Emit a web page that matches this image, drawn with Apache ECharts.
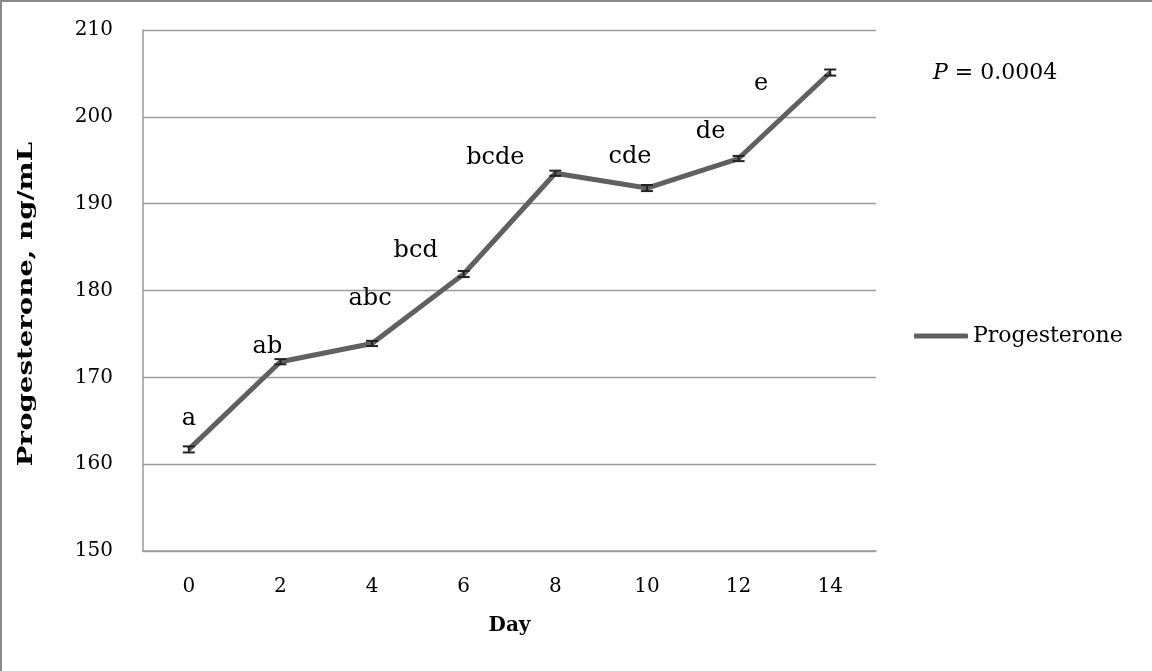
<!DOCTYPE html>
<html>
<head>
<meta charset="utf-8">
<script src="https://cdn.jsdelivr.net/npm/echarts@6/dist/echarts.min.js"></script>
<style>
html,body{margin:0;padding:0;background:#fff;}
#chart{width:1152px;height:671px;}
</style>
</head>
<body>
<div id="chart"></div>
<script>
// ---- data ----
const days = ['0', '2', '4', '6', '8', '10', '12', '14'];
const progesterone = [161.7, 171.8, 173.9, 181.9, 193.5, 191.8, 195.2, 205.1];
const sem = [0.35, 0.3, 0.3, 0.35, 0.3, 0.35, 0.3, 0.35];
const letters = ['a', 'ab', 'abc', 'bcd', 'bcde', 'cde', 'de', 'e'];
const yTicks = { min: 150, max: 210, step: 10 };
const pText = '0.0004';
const yTitle = 'Progesterone, ng/mL';
const xTitle = 'Day';
const seriesName = 'Progesterone';

// ---- layout (not data) ----
const labelOffsets = [[0, -31], [-13, -15], [-2, -45], [-48, -23], [-60, -16], [-17, -31], [-28, -27], [-69, 11]];

const FONT = 'DejaVu Serif';
const chart = echarts.init(document.getElementById('chart'));

const lineData = progesterone.map((v, i) => ({
  value: v,
  label: { show: true, formatter: letters[i], offset: labelOffsets[i] }
}));

const errData = progesterone.map((v, i) => [i, v - sem[i], v + sem[i]]);

chart.setOption({
  animation: false,
  backgroundColor: '#fff',
  grid: { left: 143, right: 276, top: 30, bottom: 120, containLabel: false },
  title: {
    left: 933, top: 62, padding: 0,
    text: '{i|P} = ' + pText,
    textStyle: {
      fontFamily: FONT, fontSize: 22, fontWeight: 'normal', color: '#000',
      rich: { i: { fontFamily: FONT, fontStyle: 'italic', fontSize: 22, color: '#000' } }
    }
  },
  legend: {
    left: 914, top: 325, orient: 'vertical', padding: 0,
    itemWidth: 54, itemHeight: 5, itemGap: 10,
    icon: 'roundRect',
    data: [{ name: seriesName, itemStyle: { color: '#606060' } }],
    textStyle: { fontFamily: FONT, fontSize: 22, color: '#000' }
  },
  xAxis: {
    type: 'category', data: days, boundaryGap: true,
    name: xTitle, nameLocation: 'middle', nameGap: 65,
    nameTextStyle: { fontFamily: FONT, fontSize: 20, fontWeight: 'bold', color: '#000' },
    axisLine: { lineStyle: { color: '#9a9a9a', width: 1.5 } },
    axisTick: { show: false },
    axisLabel: { fontFamily: FONT, fontSize: 20, color: '#000', margin: 26 }
  },
  yAxis: {
    type: 'value', min: yTicks.min, max: yTicks.max, interval: yTicks.step,
    axisLine: { show: true, lineStyle: { color: '#9a9a9a', width: 1.5 } },
    axisTick: { show: false },
    splitLine: { lineStyle: { color: '#9a9a9a', width: 1.3 } },
    axisLabel: { fontFamily: FONT, fontSize: 20, color: '#000', margin: 30 }
  },
  series: [
    {
      name: seriesName, type: 'line', data: lineData,
      symbol: 'circle', symbolSize: 0.1, showSymbol: true,
      lineStyle: { color: '#606060', width: 5 },
      itemStyle: { color: '#606060' },
      label: { fontFamily: FONT, fontSize: 24, color: '#000', position: 'inside' },
      z: 2
    },
    {
      name: 'err', type: 'custom', data: errData, z: 3,
      renderItem: function (params, api) {
        const i = api.value(0);
        const lo = api.coord([i, api.value(1)]);
        const hi = api.coord([i, api.value(2)]);
        const hw = 6;
        const st = { stroke: '#222', lineWidth: 2 };
        return {
          type: 'group',
          children: [
            { type: 'line', shape: { x1: lo[0], y1: lo[1], x2: hi[0], y2: hi[1] }, style: st },
            { type: 'line', shape: { x1: lo[0] - hw, y1: lo[1], x2: lo[0] + hw, y2: lo[1] }, style: st },
            { type: 'line', shape: { x1: hi[0] - hw, y1: hi[1], x2: hi[0] + hw, y2: hi[1] }, style: st }
          ]
        };
      }
    }
  ],
  graphic: [
    { type: 'line', shape: { x1: 0, y1: 1, x2: 1152, y2: 1 }, style: { stroke: '#8a8a8a', lineWidth: 2 }, silent: true },
    { type: 'line', shape: { x1: 1, y1: 0, x2: 1, y2: 671 }, style: { stroke: '#8a8a8a', lineWidth: 2 }, silent: true },
    {
      type: 'text', x: 27, y: 304, rotation: Math.PI / 2, scaleX: 1.38, silent: true,
      style: { text: yTitle, fontFamily: FONT, fontSize: 20, fontWeight: 'bold', fill: '#000',
               align: 'center', verticalAlign: 'middle' }
    }
  ]
});
</script>
</body>
</html>
